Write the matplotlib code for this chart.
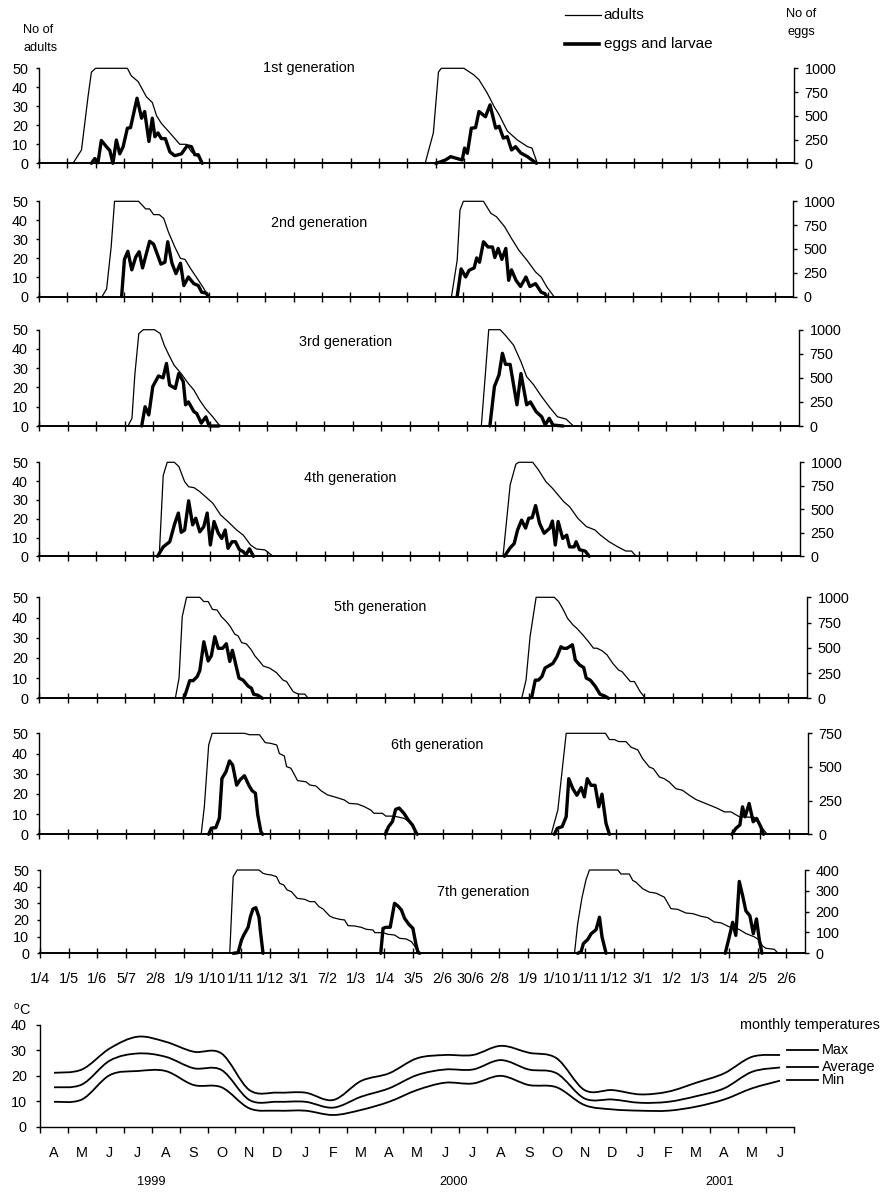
import numpy as np
import matplotlib
matplotlib.use('Agg')
import matplotlib.pyplot as plt
from matplotlib.path import Path
from matplotlib.patches import PathPatch
from matplotlib.lines import Line2D
from matplotlib.transforms import blended_transform_factory

plt.rcParams['font.family'] = ['Liberation Sans', 'DejaVu Sans']
plt.rcParams['mathtext.fontset'] = 'custom'
plt.rcParams['mathtext.rm'] = 'Liberation Sans'

# ---------------- data ----------------
date_labels = ['1/4', '1/5', '1/6', '5/7', '2/8', '1/9', '1/10', '1/11', '1/12',
               '3/1', '7/2', '1/3', '1/4', '3/5', '2/6', '30/6', '2/8', '1/9',
               '1/10', '1/11', '1/12', '3/1', '1/2', '1/3', '1/4', '2/5', '2/6']
generation_titles = ['1st generation', '2nd generation', '3rd generation',
                     '4th generation', '5th generation', '6th generation',
                     '7th generation']
egg_axis_max = [1000, 1000, 1000, 1000, 1000, 750, 400]
egg_axis_step = [250, 250, 250, 250, 250, 250, 100]

# each wave: list of (position on date axis, value)
gen1_adults = [
    [(1.20, 0), (1.50, 7), (1.73, 35), (1.85, 48), (2.00, 50), (3.12, 50), (3.26, 46), (3.50, 43),
     (3.79, 35), (4.00, 32), (4.15, 25), (4.32, 21), (4.62, 16), (4.97, 10), (5.20, 10), (5.38, 6),
     (5.62, 3.5), (5.76, 0)],
    [(13.63, 0), (13.92, 16), (14.10, 48), (14.20, 50), (15.00, 50), (15.35, 46.5), (15.53, 44),
     (15.82, 37), (16.06, 30), (16.24, 25.6), (16.53, 17), (16.88, 12.3), (17.24, 8.8), (17.40, 8),
     (17.59, 0)]]
gen1_eggs = [
    [(1.85, 0), (1.97, 50), (2.08, 6), (2.20, 240), (2.38, 175), (2.50, 135), (2.61, 0), (2.73, 245),
     (2.85, 100), (2.97, 175), (3.12, 370), (3.23, 375), (3.46, 685), (3.62, 475), (3.73, 545),
     (3.88, 230), (4.00, 475), (4.09, 280), (4.20, 320), (4.32, 260), (4.46, 260), (4.62, 120),
     (4.79, 80), (5.03, 100), (5.23, 185), (5.38, 175), (5.50, 90), (5.62, 90), (5.76, 0)],
    [(14.00, 0), (14.12, 10), (14.35, 35), (14.53, 70), (14.76, 50), (14.94, 35), (15.02, 160),
     (15.12, 105), (15.26, 370), (15.41, 375), (15.53, 545), (15.76, 490), (15.92, 615), (16.12, 370),
     (16.24, 390), (16.39, 265), (16.53, 280), (16.68, 140), (16.82, 175), (17.00, 110), (17.24, 70),
     (17.56, 0)]]

gen2_adults = [
    [(2.23, 0), (2.39, 4), (2.55, 26), (2.67, 50), (3.52, 50), (3.77, 46), (3.91, 46), (4.05, 43),
     (4.25, 43), (4.41, 41), (4.57, 34), (4.80, 26), (5.00, 20), (5.16, 19.5), (5.36, 14.6),
     (5.60, 9.3), (5.79, 5), (5.99, 0)],
    [(14.58, 0), (14.78, 19), (14.88, 45.4), (15.00, 50), (15.71, 50), (15.97, 43.7), (16.17, 41.9),
     (16.46, 36.6), (16.70, 30.5), (16.96, 24.3), (17.25, 19), (17.55, 12.9), (17.75, 10.2),
     (17.95, 5), (18.20, 0)]]
gen2_eggs = [
    [(2.92, 0), (3.02, 390), (3.14, 475), (3.28, 280), (3.42, 415), (3.54, 470), (3.66, 300),
     (3.91, 580), (4.05, 550), (4.31, 340), (4.45, 360), (4.55, 575), (4.70, 350), (4.84, 240),
     (5.00, 350), (5.12, 115), (5.28, 205), (5.47, 135), (5.63, 115), (5.75, 45), (5.91, 35), (5.99, 0)],
    [(14.78, 0), (14.92, 290), (15.08, 205), (15.20, 275), (15.38, 300), (15.47, 405), (15.57, 360),
     (15.71, 575), (15.87, 520), (16.03, 520), (16.11, 410), (16.23, 505), (16.36, 390), (16.50, 505),
     (16.60, 170), (16.70, 280), (16.86, 170), (17.02, 105), (17.21, 205), (17.35, 105), (17.55, 135),
     (17.75, 45), (17.88, 30), (17.94, 0)]]

gen3_adults = [
    [(3.12, 0), (3.26, 4), (3.36, 26.5), (3.50, 48), (3.66, 50), (4.05, 50), (4.25, 48), (4.39, 42),
     (4.55, 37), (4.74, 31.5), (4.98, 27.3), (5.24, 22), (5.43, 18.7), (5.63, 13.5), (5.83, 9.2),
     (6.09, 4.8), (6.32, 0.5), (6.42, 0)],
    [(15.51, 0), (15.65, 26.5), (15.77, 50), (16.17, 50), (16.36, 47), (16.64, 42), (16.90, 33.4),
     (17.10, 25.6), (17.35, 21.3), (17.59, 16), (17.89, 10), (18.18, 4.8), (18.48, 3.6), (18.74, 0)]]
gen3_eggs = [
    [(3.60, 0), (3.72, 200), (3.85, 115), (3.99, 410), (4.19, 520), (4.35, 500), (4.47, 650),
     (4.58, 425), (4.78, 390), (4.90, 545), (5.06, 460), (5.14, 220), (5.24, 250), (5.43, 150),
     (5.53, 130), (5.69, 30), (5.85, 95), (5.97, 0), (6.30, 0)],
    [(15.81, 0), (15.97, 410), (16.13, 530), (16.25, 755), (16.36, 640), (16.52, 640), (16.76, 220),
     (16.90, 545), (17.10, 220), (17.23, 250), (17.43, 150), (17.63, 95), (17.75, 10), (17.89, 80),
     (18.02, 10), (18.38, 0)]]

gen4_adults = [
    [(4.21, 0), (4.35, 43), (4.49, 50), (4.74, 50), (4.90, 47.7), (5.10, 39.7), (5.24, 37),
     (5.43, 36.5), (5.63, 34.4), (5.83, 31.7), (6.09, 28.2), (6.36, 22), (6.62, 18.4), (6.92, 14),
     (7.15, 11.3), (7.41, 6), (7.61, 3.9), (7.91, 3.4), (8.20, 0)],
    [(16.25, 0), (16.50, 38), (16.70, 49), (16.80, 50), (17.29, 50), (17.49, 46), (17.75, 39.7),
     (17.98, 36.2), (18.18, 32.6), (18.38, 29), (18.58, 26.4), (18.87, 20.2), (19.17, 15.8),
     (19.47, 14), (19.66, 11.3), (19.96, 7.8), (20.26, 5.1), (20.55, 2.8), (20.75, 2.8), (20.91, 0)]]
gen4_eggs = [
    [(4.15, 0), (4.35, 100), (4.58, 155), (4.74, 335), (4.88, 460), (4.98, 255), (5.10, 280),
     (5.24, 590), (5.38, 335), (5.49, 405), (5.63, 260), (5.77, 315), (5.89, 460), (6.00, 120),
     (6.13, 370), (6.28, 245), (6.40, 190), (6.52, 280), (6.62, 85), (6.76, 155), (6.88, 155),
     (7.02, 70), (7.15, 50), (7.25, 15), (7.37, 80), (7.51, 0)],
    [(16.30, 0), (16.50, 90), (16.64, 135), (16.76, 280), (16.90, 385), (17.04, 300), (17.15, 405),
     (17.27, 410), (17.39, 540), (17.53, 350), (17.69, 245), (17.89, 300), (17.98, 375), (18.08, 120),
     (18.18, 370), (18.34, 190), (18.48, 225), (18.58, 100), (18.74, 100), (18.81, 155), (18.93, 70),
     (19.13, 55), (19.27, 0)]]

gen5_adults = [
    [(4.73, 0), (4.86, 10), (4.97, 40.4), (5.12, 50), (5.58, 50), (5.72, 47.9), (5.87, 47.9),
     (6.02, 44), (6.18, 43.7), (6.33, 40.4), (6.50, 38), (6.64, 35.5), (6.79, 31.8), (6.91, 30.9),
     (7.03, 27.6), (7.20, 26.9), (7.37, 23.9), (7.49, 21), (7.66, 18.2), (7.78, 16), (8.01, 14.9),
     (8.24, 12.7), (8.47, 9), (8.59, 8.3), (8.82, 3.3), (8.99, 2.1), (9.22, 2.1), (9.34, 0)],
    [(16.75, 0), (16.90, 9), (17.04, 30.5), (17.25, 50), (17.88, 50), (18.03, 47.9), (18.20, 43.7),
     (18.34, 39.6), (18.53, 36.3), (18.66, 34.7), (18.87, 31.4), (19.07, 28), (19.24, 24.8),
     (19.36, 24.8), (19.53, 23.6), (19.71, 21.5), (19.91, 17.3), (20.11, 14), (20.23, 13.2),
     (20.52, 8.3), (20.66, 8.3), (20.86, 3.3), (21.04, 0)]]
gen5_eggs = [
    [(5.02, 0), (5.09, 50), (5.23, 175), (5.35, 175), (5.49, 215), (5.58, 275), (5.72, 560),
     (5.87, 370), (5.98, 420), (6.10, 610), (6.22, 495), (6.37, 495), (6.50, 540), (6.62, 365),
     (6.71, 475), (6.79, 380), (6.94, 200), (7.08, 180), (7.26, 120), (7.37, 100), (7.45, 40),
     (7.60, 30), (7.75, 0)],
    [(17.02, 0), (17.10, 15), (17.22, 180), (17.33, 180), (17.45, 215), (17.56, 300), (17.68, 320),
     (17.83, 345), (17.97, 410), (18.11, 510), (18.20, 495), (18.32, 495), (18.51, 530), (18.61, 380),
     (18.76, 330), (18.90, 305), (18.99, 200), (19.13, 180), (19.30, 120), (19.47, 40), (19.65, 20),
     (19.76, 0)]]

gen6_adults = [
    [(5.62, 0), (5.73, 13.7), (5.88, 44.2), (6.00, 50), (7.12, 50), (7.29, 49.3), (7.64, 49.3),
     (7.84, 45.4), (8.04, 45), (8.24, 44.2), (8.33, 40), (8.50, 38.8), (8.58, 33.5), (8.73, 32.7),
     (8.96, 26.6), (9.25, 26), (9.39, 24.4), (9.60, 23.9), (9.77, 21.6), (10.00, 19.5), (10.29, 18.3),
     (10.58, 17), (10.75, 15.3), (11.04, 15), (11.27, 13.7), (11.50, 12), (11.61, 10.4), (11.90, 10.4),
     (12.02, 9), (12.31, 9), (12.65, 7.9), (12.83, 6.3), (13.00, 3), (13.11, 0)],
    [(17.75, 0), (17.98, 12), (18.27, 50), (19.63, 50), (19.77, 46.9), (19.94, 46.9), (20.09, 45.9),
     (20.34, 45.9), (20.52, 43.1), (20.75, 41.8), (20.92, 37.4), (21.15, 33.3), (21.29, 32.5),
     (21.50, 28.4), (21.67, 27.5), (21.84, 25.9), (22.07, 22.6), (22.30, 21.8), (22.54, 19.3),
     (22.77, 17.2), (23.11, 15.2), (23.52, 12.8), (23.75, 11.1), (23.98, 11.1), (24.27, 8.7),
     (24.79, 8.4), (24.96, 5.1), (25.19, 0.8), (25.25, 0)]]
gen6_eggs = [
    [(5.88, 0), (5.97, 45), (6.13, 50), (6.25, 120), (6.34, 415), (6.48, 465), (6.60, 545),
     (6.71, 515), (6.85, 365), (6.97, 405), (7.12, 435), (7.27, 365), (7.38, 325), (7.50, 305),
     (7.58, 145), (7.69, 20), (7.75, 0)],
    [(12.00, 0), (12.11, 55), (12.25, 95), (12.36, 185), (12.48, 195), (12.65, 155), (12.80, 105),
     (12.94, 70), (13.08, 8), (13.11, 0)],
    [(17.86, 0), (17.96, 44), (18.13, 57), (18.27, 130), (18.36, 413), (18.50, 339), (18.64, 290),
     (18.79, 347), (18.90, 278), (19.00, 413), (19.13, 364), (19.27, 364), (19.40, 204), (19.51, 298),
     (19.65, 81), (19.77, 0)],
    [(24.01, 0), (24.15, 44), (24.29, 69), (24.38, 204), (24.47, 130), (24.61, 229), (24.75, 93),
     (24.87, 118), (25.01, 57), (25.11, 0)]]

gen7_adults = [
    [(6.61, 0), (6.73, 46), (6.87, 50), (7.63, 50), (7.77, 48), (7.89, 47.4), (8.06, 47), (8.24, 46),
     (8.35, 42), (8.49, 41), (8.61, 38), (8.76, 37), (8.96, 33), (9.22, 32.4), (9.40, 31), (9.57, 31),
     (9.72, 28), (9.86, 26.6), (10.09, 22.4), (10.21, 21.4), (10.44, 20.4), (10.61, 20), (10.73, 16.6),
     (10.96, 16.4), (11.19, 15.6), (11.37, 14.4), (11.60, 14), (11.66, 12.4), (11.95, 12.4),
     (12.12, 11.4), (12.35, 11), (12.53, 9), (12.76, 8.6), (12.94, 7), (13.05, 4.4), (13.17, 0.4),
     (13.20, 0)],
    [(18.62, 0), (18.73, 17.6), (18.88, 33.3), (19.02, 44.1), (19.14, 50), (20.13, 50), (20.24, 47.6),
     (20.53, 47.6), (20.65, 43.7), (20.76, 42.7), (21.00, 38.7), (21.23, 36.7), (21.46, 36.1),
     (21.75, 33.7), (21.98, 26.8), (22.21, 26.4), (22.50, 24.2), (22.74, 23.8), (23.03, 22.2),
     (23.26, 21.4), (23.49, 18.8), (23.72, 18.3), (24.01, 15.9), (24.19, 15.5), (24.36, 14.3),
     (24.59, 11.9), (24.88, 9.9), (25.06, 7.9), (25.17, 4.4), (25.29, 3), (25.58, 2.4), (25.69, 0.4),
     (25.75, 0)]]
gen7_eggs = [
    [(6.73, 0), (6.90, 3), (7.02, 64), (7.10, 88), (7.25, 125), (7.33, 176), (7.42, 213), (7.52, 219),
     (7.63, 173), (7.68, 104), (7.77, 0)],
    [(11.87, 0), (11.95, 120), (12.06, 125), (12.20, 125), (12.35, 240), (12.47, 227), (12.59, 208),
     (12.70, 168), (12.85, 139), (12.99, 120), (13.09, 48), (13.17, 3), (13.23, 0)],
    [(18.73, 0), (18.85, 8), (18.93, 47), (19.08, 66), (19.20, 94), (19.37, 113), (19.49, 173),
     (19.58, 78), (19.72, 0)],
    [(23.87, 0), (23.99, 66), (24.13, 149), (24.24, 86), (24.36, 345), (24.48, 275), (24.59, 204),
     (24.73, 180), (24.85, 94), (24.96, 165), (25.06, 63), (25.15, 0)]]

adults_by_gen = [gen1_adults, gen2_adults, gen3_adults, gen4_adults, gen5_adults, gen6_adults, gen7_adults]
eggs_by_gen = [gen1_eggs, gen2_eggs, gen3_eggs, gen4_eggs, gen5_eggs, gen6_eggs, gen7_eggs]

month_labels = ['A', 'M', 'J', 'J', 'A', 'S', 'O', 'N', 'D', 'J', 'F', 'M', 'A', 'M', 'J',
                'J', 'A', 'S', 'O', 'N', 'D', 'J', 'F', 'M', 'A', 'M', 'J']
temp_max = [21.2, 22.5, 30.8, 35.4, 33.4, 29.5, 28.8, 14.4, 13.4, 13.4, 10.5, 18.0, 21.0, 26.9, 28.2,
            28.2, 31.8, 29.1, 26.9, 14.4, 14.4, 12.7, 13.8, 17.3, 21.0, 27.5, 28.2]
temp_avg = [15.5, 16.6, 26.0, 28.8, 27.5, 23.0, 22.3, 10.5, 9.8, 9.8, 7.5, 11.8, 15.1, 20.3, 22.5,
            22.5, 26.2, 22.5, 21.0, 11.1, 10.7, 9.4, 9.8, 12.0, 15.1, 21.6, 23.3]
temp_min = [9.8, 10.7, 20.3, 21.9, 21.9, 16.4, 15.5, 7.2, 6.3, 6.3, 4.6, 6.6, 9.8, 14.4, 17.3,
            17.0, 20.0, 16.4, 15.5, 8.5, 6.8, 6.3, 6.3, 7.9, 10.7, 15.1, 18.1]
year_labels = ['1999', '2000', '2001']

# ---------------- layout ----------------
W, H = 882, 1194
fig = plt.figure(figsize=(W / 100, H / 100), dpi=100)


def fx(px):
    return px / W


def fy(py):
    return 1 - py / H


def add_axes_px(left, right, top, bottom):
    return fig.add_axes([fx(left), fy(bottom), (right - left) / W, (bottom - top) / H])


FS = 10.4
panel_px = [(39, 794, 68.3, 163.3), (39, 793, 201.3, 296.5), (39, 799, 329.7, 426),
            (39, 800, 462.3, 556.3), (39, 807, 597.3, 698.3), (39, 808, 733.3, 834.3),
            (40, 805, 870, 953.3)]
title_px = [(309, 68), (319, 223), (346, 342), (350, 478), (380, 607), (437, 745), (483, 892)]
X_MAX = 26.65

for i in range(7):
    l, r, t, b = panel_px[i]
    ax = add_axes_px(l, r, t, b)
    ax2 = ax.twinx()
    ax.set_xlim(0, X_MAX)
    ax.set_ylim(0, 50)
    ax2.set_ylim(0, egg_axis_max[i])
    ax.set_facecolor('none')
    for wave in adults_by_gen[i]:
        xs, ys = zip(*wave)
        ax.plot(xs, ys, color='black', lw=0.9, clip_on=False, solid_joinstyle='round')
    for wave in eggs_by_gen[i]:
        xs, ys = zip(*wave)
        ax2.plot(xs, ys, color='black', lw=2.4, clip_on=False, solid_joinstyle='round',
                 solid_capstyle='round')
    for s in ['top', 'right']:
        ax.spines[s].set_visible(False)
    for s in ['top', 'left', 'bottom']:
        ax2.spines[s].set_visible(False)
    ax.spines['left'].set_linewidth(1.0)
    ax.spines['bottom'].set_linewidth(1.4)
    ax2.spines['right'].set_linewidth(1.0)
    ax.set_xticks(range(len(date_labels)))
    if i == 6:
        ax.set_xticklabels(date_labels)
    else:
        ax.set_xticklabels([])
    ax.tick_params(axis='x', direction='inout', length=7, width=1.0, labelsize=FS, pad=10)
    ax.set_yticks(range(0, 51, 10))
    ax.tick_params(axis='y', direction='out', length=2.5, width=1.0, labelsize=FS, pad=5.5)
    ax2.set_yticks(np.arange(0, egg_axis_max[i] + 1, egg_axis_step[i]))
    ax2.tick_params(axis='y', direction='out', length=3, width=1.0, labelsize=FS, pad=4.5)
    fig.text(fx(title_px[i][0]), fy(title_px[i][1]), generation_titles[i],
             ha='center', va='center', fontsize=FS)

# axis titles and legend
fig.text(fx(23), fy(30), 'No of', ha='left', va='center', fontsize=9.2)
fig.text(fx(23), fy(48), 'adults', ha='left', va='center', fontsize=9.2)
fig.text(fx(801), fy(14), 'No of', ha='center', va='center', fontsize=9.2)
fig.text(fx(801), fy(32), 'eggs', ha='center', va='center', fontsize=9.2)
fig.add_artist(Line2D([fx(565), fx(601)], [fy(15), fy(15)], color='black', lw=0.9,
                      transform=fig.transFigure))
fig.add_artist(Line2D([fx(565), fx(599)], [fy(44), fy(44)], color='black', lw=2.6,
                      transform=fig.transFigure))
fig.text(fx(603), fy(15), 'adults', ha='left', va='center', fontsize=11)
fig.text(fx(604), fy(44), 'eggs and larvae', ha='left', va='center', fontsize=11)

# ---------------- temperature panel ----------------
axt = add_axes_px(40, 794, 1025, 1126.7)
axt.set_xlim(0, len(month_labels))
axt.set_ylim(0, 40)
axt.set_facecolor('none')
for s in ['top', 'right']:
    axt.spines[s].set_visible(False)
axt.spines['left'].set_linewidth(1.0)
axt.spines['bottom'].set_linewidth(1.0)


def smooth_path(x, y):
    x = np.asarray(x, float)
    y = np.asarray(y, float)
    pts = np.column_stack([x, y])
    verts = [pts[0]]
    codes = [Path.MOVETO]
    n = len(pts)
    for k in range(n - 1):
        p0 = pts[k - 1] if k > 0 else pts[k]
        p1 = pts[k]
        p2 = pts[k + 1]
        p3 = pts[k + 2] if k + 2 < n else pts[k + 1]
        c1 = p1 + (p2 - p0) / 6.0
        c2 = p2 - (p3 - p1) / 6.0
        verts += [c1, c2, p2]
        codes += [Path.CURVE4] * 3
    return Path(verts, codes)


mx = np.arange(len(month_labels)) + 0.5
for series in (temp_max, temp_avg, temp_min):
    axt.add_patch(PathPatch(smooth_path(mx, series), fill=False, edgecolor='black', lw=1.3))

axt.set_xticks(range(len(month_labels) + 1))
axt.set_xticklabels([])
axt.tick_params(axis='x', which='major', direction='out', length=4, width=1.0)
axt.set_xticks(mx, minor=True)
axt.set_xticklabels(month_labels, minor=True, fontsize=FS)
axt.tick_params(axis='x', which='minor', length=0, pad=14)
axt.set_yticks(range(0, 41, 10))
axt.tick_params(axis='y', direction='out', length=3, width=1.0, labelsize=FS, pad=6.5)

trans = blended_transform_factory(axt.transData, fig.transFigure)
for lab, xpos in zip(year_labels, [4.0, 14.8, 24.35]):
    axt.text(xpos, fy(1182), lab, transform=trans, ha='center', va='center', fontsize=9.2)

fig.text(fx(13), fy(1010), r'$^{\mathrm{o}}$C', ha='left', va='center', fontsize=FS)
fig.text(fx(880), fy(1025), 'monthly temperatures', ha='right', va='center', fontsize=FS)
for lab, py in zip(['Max', 'Average', 'Min'], [1050, 1067, 1080]):
    fig.add_artist(Line2D([fx(787), fx(818)], [fy(py), fy(py)], color='black', lw=1.3,
                          transform=fig.transFigure))
    fig.text(fx(822), fy(py), lab, ha='left', va='center', fontsize=FS)

fig.savefig('out.png', dpi=100)
